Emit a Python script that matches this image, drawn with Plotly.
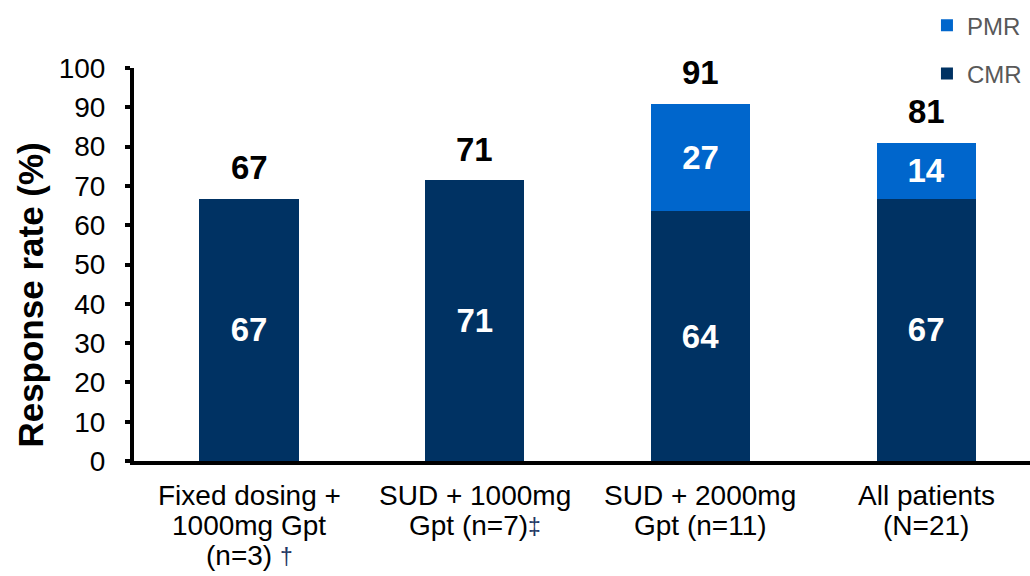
import plotly.graph_objects as go

# ---- data ----
categories = ["Fixed dosing", "SUD 1000mg", "SUD 2000mg", "All patients"]
DAG = "<span style='color:#1F3864;font-size:23px'>%s</span>"
label_lines = [
    ["Fixed dosing +", "1000mg Gpt", "(n=3) " + DAG % "†"],
    ["SUD + 1000mg", "Gpt (n=7)" + DAG % "‡"],
    ["SUD + 2000mg", "Gpt (n=11)"],
    ["All patients", "(N=21)"],
]
cmr = [66.7, 71.4, 63.6, 66.7]
pmr = [None, None, 27.3, 14.3]
cmr_text = ["67", "71", "64", "67"]
pmr_text = ["", "", "27", "14"]
totals = [66.7, 71.4, 90.9, 81.0]
total_text = ["67", "71", "91", "81"]
y_ticks = list(range(0, 101, 10))
y_title = "Response rate (%)"

FONT = "Liberation Sans, Arial, sans-serif"
CMR_COLOR = "#003263"
PMR_COLOR = "#0066CC"
LABEL_SIZE = 33

fig = go.Figure()
fig.add_trace(go.Bar(
    x=categories, y=cmr, name="CMR", marker=dict(color=CMR_COLOR, line=dict(width=0)),
    text=cmr_text, textposition="inside", insidetextanchor="middle",
    textfont=dict(family=FONT, size=LABEL_SIZE, color="white", weight="bold"),
    width=0.44, legendrank=2, legendgroup="c",
))
fig.add_trace(go.Bar(
    x=categories, y=pmr, name="PMR", marker=dict(color=PMR_COLOR, line=dict(width=0)),
    text=pmr_text, textposition="inside", insidetextanchor="middle",
    textfont=dict(family=FONT, size=LABEL_SIZE, color="white", weight="bold"),
    width=0.44, legendrank=1, legendgroup="p",
))

annotations = []
for cat, tot, txt in zip(categories, totals, total_text):
    annotations.append(dict(
        x=cat, y=tot, xref="x", yref="y", text="<b>%s</b>" % txt, showarrow=False,
        yanchor="middle", yshift=31, font=dict(family=FONT, size=LABEL_SIZE, color="black"),
    ))
for cat, lines in zip(categories, label_lines):
    for i, line in enumerate(lines):
        annotations.append(dict(
            x=cat, y=0, xref="x", yref="paper", text=line, showarrow=False,
            yanchor="middle", yshift=-34 - 30 * i,
            font=dict(family=FONT, size=28, color="black"),
        ))
# y-axis title (offset downward as in the reference)
annotations.append(dict(
    x=-0.116, y=0.421, xref="paper", yref="paper", text="<b>%s</b>" % y_title,
    textangle=-90, showarrow=False, xanchor="center", yanchor="middle",
    font=dict(family=FONT, size=35, color="black"),
))

fig.update_layout(
    barmode="stack",
    width=1030, height=576,
    margin=dict(l=134, r=0, t=68, b=115),
    paper_bgcolor="white", plot_bgcolor="white",
    font=dict(family=FONT, color="black"),
    showlegend=True,
    legend=dict(
        x=0.885, xanchor="left", y=1.165, yanchor="top",
        traceorder="grouped", tracegroupgap=14,
        font=dict(family=FONT, size=24, color="#595959"),
        bgcolor="rgba(0,0,0,0)", itemwidth=30,
    ),
    annotations=annotations,
)

fig.update_xaxes(
    range=[-0.51, 3.46], showticklabels=False, ticks="",
    showline=True, linecolor="black", linewidth=4, showgrid=False, zeroline=False,
)
fig.update_yaxes(
    range=[0, 100], tickvals=y_ticks, ticks="outside", ticklen=5, tickwidth=4,
    tickcolor="black", showline=True, linecolor="black", linewidth=4,
    showgrid=False, zeroline=False, ticklabelstandoff=14,
    tickfont=dict(family=FONT, size=28, color="black"),
)

fig.write_html("out.html")
